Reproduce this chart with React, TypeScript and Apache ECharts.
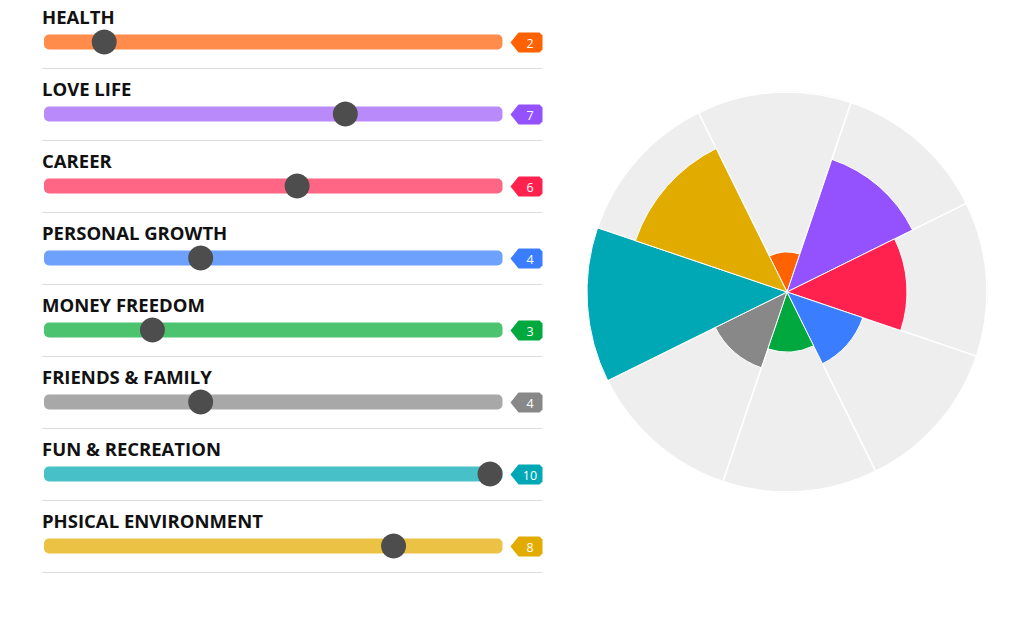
import React, { useEffect, useRef } from "react";
import * as echarts from "echarts";

const categories = [
  "HEALTH",
  "LOVE LIFE",
  "CAREER",
  "PERSONAL GROWTH",
  "MONEY FREEDOM",
  "FRIENDS & FAMILY",
  "FUN & RECREATION",
  "PHSICAL ENVIRONMENT",
];
const scores = [2, 7, 6, 4, 3, 4, 10, 8];
const mainColors = ["#ff6200", "#9452ff", "#ff224f", "#3a7dff", "#00a83d", "#888888", "#00a8b5", "#e1ab00"];
const trackColors = ["#ff8c4b", "#b98afa", "#ff6585", "#6ea1fb", "#4bc36f", "#a8a8a8", "#48c0c8", "#ecc245"];
const scaleMin = 1;
const scaleMax = 10;

export default function App() {
  const ref = useRef<HTMLDivElement>(null);
  useEffect(() => {
    if (!ref.current) return;
    const chart = echarts.init(ref.current, undefined, { renderer: "svg" });
    const knobR = 12.5;
    const option: any = {
      animation: false,
      grid: { left: 56, width: 434, top: 6, height: 576 },
      xAxis: { type: "value", min: scaleMin, max: scaleMax, show: false },
      yAxis: { type: "category", data: categories, inverse: true, show: false },
      polar: { center: [787, 292], radius: [0, 200] },
      angleAxis: {
        type: "category",
        data: categories,
        startAngle: 116.3,
        clockwise: true,
        axisLine: { show: true, lineStyle: { color: "#e4e4e4", width: 1 } },
        axisTick: { show: false },
        axisLabel: { show: false },
        splitLine: { show: false },
      },
      radiusAxis: {
        type: "value",
        min: 0,
        max: scaleMax,
        axisLine: { show: false },
        axisTick: { show: false },
        axisLabel: { show: false },
        splitLine: { show: false },
      },
      series: [
        {
          type: "custom",
          xAxisIndex: 0,
          yAxisIndex: 0,
          silent: true,
          data: categories.map((_, i) => [scaleMax, i]),
          encode: { x: 0, y: 1 },
          renderItem: (params: any, api: any) => {
            const i = api.value(1);
            const p0 = api.coord([scaleMin, i]);
            const p1 = api.coord([scaleMax, i]);
            const y = p0[1];
            const x0 = p0[0] - knobR + 0.5;
            const x1 = p1[0] + knobR;
            const bx = x1 + 8;
            return {
              type: "group",
              children: [
                {
                  type: "rect",
                  shape: { x: x0, y: y - 7.5, width: x1 - x0, height: 15, r: 5 },
                  style: { fill: trackColors[i] },
                },
                {
                  type: "text",
                  x: x0 - 2,
                  y: y - 25.5,
                  style: {
                    text: categories[i],
                    fill: "#111",
                    font: "bold 18.5px 'Open Sans', sans-serif",
                    textVerticalAlign: "middle",
                    textAlign: "left",
                  },
                },
                {
                  type: "line",
                  shape: { x1: x0 - 2, y1: y + 26.5, x2: x1 + 40, y2: y + 26.5 },
                  style: { stroke: "#dddddd", lineWidth: 1 },
                },
                {
                  type: "polygon",
                  shape: {
                    points: [
                      [bx, y + 0.5],
                      [bx + 8, y - 9.5],
                      [bx + 29, y - 9.5],
                      [bx + 32, y - 6.5],
                      [bx + 32, y + 7.5],
                      [bx + 29, y + 10.5],
                      [bx + 8, y + 10.5],
                    ],
                  },
                  style: { fill: mainColors[i] },
                },
                {
                  type: "text",
                  x: bx + 19.5,
                  y: y + 1,
                  style: {
                    text: String(scores[i]),
                    fill: "#fff",
                    font: "12.5px 'Open Sans', sans-serif",
                    textAlign: "center",
                    textVerticalAlign: "middle",
                  },
                },
              ],
            };
          },
          z: 1,
        },
        {
          type: "scatter",
          xAxisIndex: 0,
          yAxisIndex: 0,
          data: scores.map((v, i) => [v, i]),
          symbol: "circle",
          symbolSize: 25,
          itemStyle: { color: "#4d4d4d", opacity: 1 },
          silent: true,
          z: 5,
        },
        {
          type: "bar",
          coordinateSystem: "polar",
          data: categories.map(() => scaleMax),
          barCategoryGap: "0%",
          barGap: "-100%",
          itemStyle: { color: "#eeeeee", borderColor: "#ffffff", borderWidth: 1.5 },
          silent: true,
          z: 1,
        },
        {
          type: "bar",
          coordinateSystem: "polar",
          data: scores.map((v, i) => ({ value: v, itemStyle: { color: mainColors[i] } })),
          barCategoryGap: "0%",
          barGap: "-100%",
          itemStyle: { borderColor: "#ffffff", borderWidth: 1 },
          silent: true,
          z: 2,
        },
      ],
    };
    chart.setOption(option);
    return () => chart.dispose();
  }, []);
  return (
    <div
      ref={ref}
      style={{ position: "absolute", left: 0, top: 0, width: 1032, height: 633 }}
    />
  );
}
